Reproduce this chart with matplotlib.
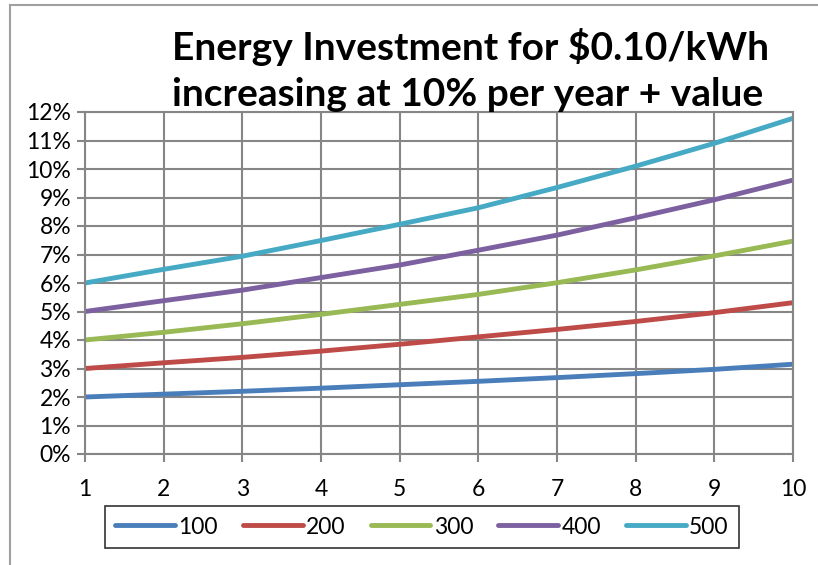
import numpy as np
import matplotlib.pyplot as plt
from matplotlib.lines import Line2D

# Years on the x axis
years = [1, 2, 3, 4, 5, 6, 7, 8, 9, 10]

# Investment return (%) per series
s100 = [2.00, 2.10, 2.20, 2.31, 2.43, 2.55, 2.68, 2.82, 2.97, 3.15]
s200 = [3.00, 3.20, 3.39, 3.61, 3.85, 4.11, 4.37, 4.65, 4.96, 5.31]
s300 = [4.00, 4.27, 4.57, 4.90, 5.25, 5.60, 6.01, 6.46, 6.95, 7.47]
s400 = [5.00, 5.38, 5.75, 6.19, 6.63, 7.15, 7.68, 8.29, 8.92, 9.61]
s500 = [6.00, 6.48, 6.94, 7.49, 8.06, 8.64, 9.35, 10.10, 10.90, 11.78]

labels = ["100", "200", "300", "400", "500"]
colors = ["#4A7EBB", "#BE4B48", "#98B954", "#7D60A0", "#46AAC5"]

plt.rcParams['font.family'] = ['Lato', 'DejaVu Sans']

fig = plt.figure(figsize=(8.18, 5.65), dpi=100)
ax = fig.add_axes([85/818, 1-454/565, (793-85)/818, (454-112)/565])

for vals, lab, col in zip([s100, s200, s300, s400, s500], labels, colors):
    ax.plot(years, vals, color=col, lw=3.5, label=lab, solid_capstyle='butt')

grid_col = "#868686"
ax.set_xlim(1, 10)
ax.set_ylim(0, 12)
ax.set_xticks(years)
ax.set_yticks(np.arange(0, 13, 1))
ax.set_yticklabels(["%d%%" % v for v in range(13)])
ax.grid(True, color=grid_col, lw=1.5)
ax.set_axisbelow(True)
for sp in ax.spines.values():
    sp.set_color(grid_col)
    sp.set_linewidth(1.5)
ax.tick_params(axis='both', colors=grid_col, labelcolor='black', labelsize=16.5,
               length=6, width=1.5)
ax.tick_params(axis='x', pad=12)
ax.tick_params(axis='y', pad=4)

# Title
fig.text(0.575, 1-47/565, "Energy Investment for $0.10/kWh", ha='center', va='center',
         fontsize=28, fontweight='bold')
fig.text(0.572, 1-95/565, "increasing at 10% per year + value", ha='center', va='center',
         fontsize=28, fontweight='bold')

# Legend
leg = fig.legend(loc='center', bbox_to_anchor=(422/818, 1-527/565), ncol=5,
                 fontsize=16.5, frameon=True, fancybox=False, handlelength=2.6,
                 columnspacing=1.1, handletextpad=0.15, borderpad=0.45)
leg.get_frame().set_edgecolor('black')
leg.get_frame().set_linewidth(1.2)
for h in leg.get_lines():
    h.set_solid_capstyle('round')

# Outer border of the chart area
fig.add_artist(Line2D([10/818, 10/818], [0, 1-5/565], color="#A0A0A0", lw=1.5))
fig.add_artist(Line2D([10/818, 1], [1-5/565, 1-5/565], color="#A0A0A0", lw=1.5))

fig.savefig("out.png", dpi=100)
